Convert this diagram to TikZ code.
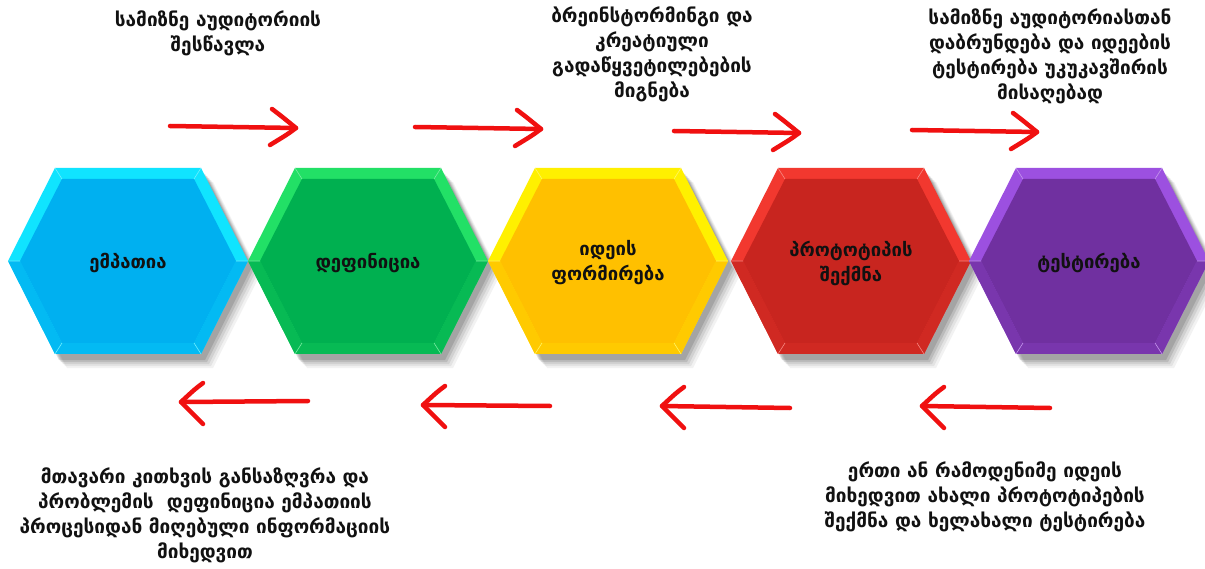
\documentclass[tikz,border=0pt]{standalone}
\usepackage{fontspec}
\setmainfont{DejaVu Sans}
\definecolor{cblue}{HTML}{00B0F0}
\definecolor{cbluer}{HTML}{10E4FF}
\definecolor{cgreen}{HTML}{00B050}
\definecolor{cgreenr}{HTML}{22E066}
\definecolor{cyellow}{HTML}{FFC000}
\definecolor{cyellowr}{HTML}{FFF000}
\definecolor{cred}{HTML}{C8251F}
\definecolor{credr}{HTML}{F2382F}
\definecolor{cpurple}{HTML}{7030A0}
\definecolor{cpurpler}{HTML}{9C50E0}
\definecolor{arrowred}{HTML}{F01010}
\definecolor{txt}{HTML}{111111}
\tikzset{
  redarrow/.style={draw=arrowred,line width=4.5pt,line cap=round,line join=round},
  label/.style={align=center,text=txt,font=\bfseries\fontsize{19}{25}\selectfont,inner sep=0pt},
  hexlabel/.style={align=center,text=txt,font=\bfseries\fontsize{18.5}{25}\selectfont,inner sep=0pt},
}
\newcommand\hexouter{(-120,0) -- (-73,-93) -- (73,-93) -- (120,0) -- (73,93) -- (-73,93) -- cycle}
\newcommand\hexinner{(-108,0) -- (-66,-82) -- (66,-82) -- (108,0) -- (66,82) -- (-66,82) -- cycle}
\newcommand\myhex[5]{%
  \begin{scope}[shift={(#2,261)}]
    \foreach \dx/\dy/\op in {12/14/0.05,10/12/0.06,8/10/0.08,6/8/0.10,4/6/0.12}
      {\fill[black,opacity=\op,shift={(\dx,\dy)}] \hexouter;}
    \fill[#4] \hexouter;
    % bottom facets darker
    \fill[#3!80!#4] (-120,0) -- (-108,0) -- (-66,82) -- (66,82) -- (108,0) -- (120,0) -- (73,93) -- (-73,93) -- cycle;
    \fill[#3] \hexinner;
    \draw[#4!60!white,line width=0.6pt] (-120,0) -- (-108,0) (-73,-93) -- (-66,-82) (73,-93) -- (66,-82)
      (120,0) -- (108,0) (73,93) -- (66,82) (-73,93) -- (-66,82);
    \node[hexlabel] (#1) at (0,2) {#5};
  \end{scope}}
\begin{document}
\begin{tikzpicture}[x=1pt,y=-1pt]
\useasboundingbox (0,0) rectangle (1205,569);
\fill[white] (0,0) rectangle (1205,569);

\myhex{h1}{128}{cblue}{cbluer}{ემპათია}
\myhex{h2}{368}{cgreen}{cgreenr}{დეფინიცია}
\myhex{h3}{608}{cyellow}{cyellowr}{იდეის\\ფორმირება}
\myhex{h4}{851}{cred}{credr}{პროტოტიპის\\შექმნა}
\myhex{h5}{1089}{cpurple}{cpurpler}{ტესტირება}

% top labels
\node[label] (l1) at (218,33) {სამიზნე აუდიტორიის\\შესწავლა};
\node[label] (l2) at (652,54) {ბრეინსტორმინგი და\\კრეატიული\\გადაწყვეტილებების\\მიგნება};
\node[label] (l3) at (1050,56) {სამიზნე აუდიტორიასთან\\დაბრუნდება და იდეების\\ტესტირება უკუკავშირის\\მისაღებად};
% bottom labels
\node[label] (l4) at (205,515) {მთავარი კითხვის განსაზღვრა და\\პრობლემის\ \ დეფინიცია ემპათიის\\პროცესიდან მიღებული ინფორმაციის\\მიხედვით};
\node[label] (l5) at (985,497) {ერთი ან რამოდენიმე იდეის\\მიხედვით ახალი პროტოტიპების\\შექმნა და ხელახალი ტესტირება};

% top arrows (pointing right)
\coordinate (a1s) at (170,126); \coordinate (a1e) at (296,128);
\coordinate (a2s) at (415,127); \coordinate (a2e) at (541,129);
\coordinate (a3s) at (674,131); \coordinate (a3e) at (799,133);
\coordinate (a4s) at (912,130); \coordinate (a4e) at (1037,132);
\foreach \a in {a1,a2,a3,a4}{
  \draw[redarrow] (\a s) -- (\a e);
  \draw[redarrow] (\a e) ++(-24,-19) .. controls +(8,6) .. (\a e) .. controls +(-8,6) .. ++(-26,17);
}
% bottom arrows (pointing left)
\coordinate (b1s) at (308,401); \coordinate (b1e) at (181,402);
\coordinate (b2s) at (550,406); \coordinate (b2e) at (423,405);
\coordinate (b3s) at (790,408); \coordinate (b3e) at (662,406);
\coordinate (b4s) at (1050,408); \coordinate (b4e) at (922,406);
\foreach \a in {b1,b2,b3,b4}{
  \draw[redarrow] (\a s) -- (\a e);
  \draw[redarrow] (\a e) ++(22,-19) .. controls +(-8,6) .. (\a e) .. controls +(8,8) .. ++(22,22);
}
\end{tikzpicture}
\end{document}
